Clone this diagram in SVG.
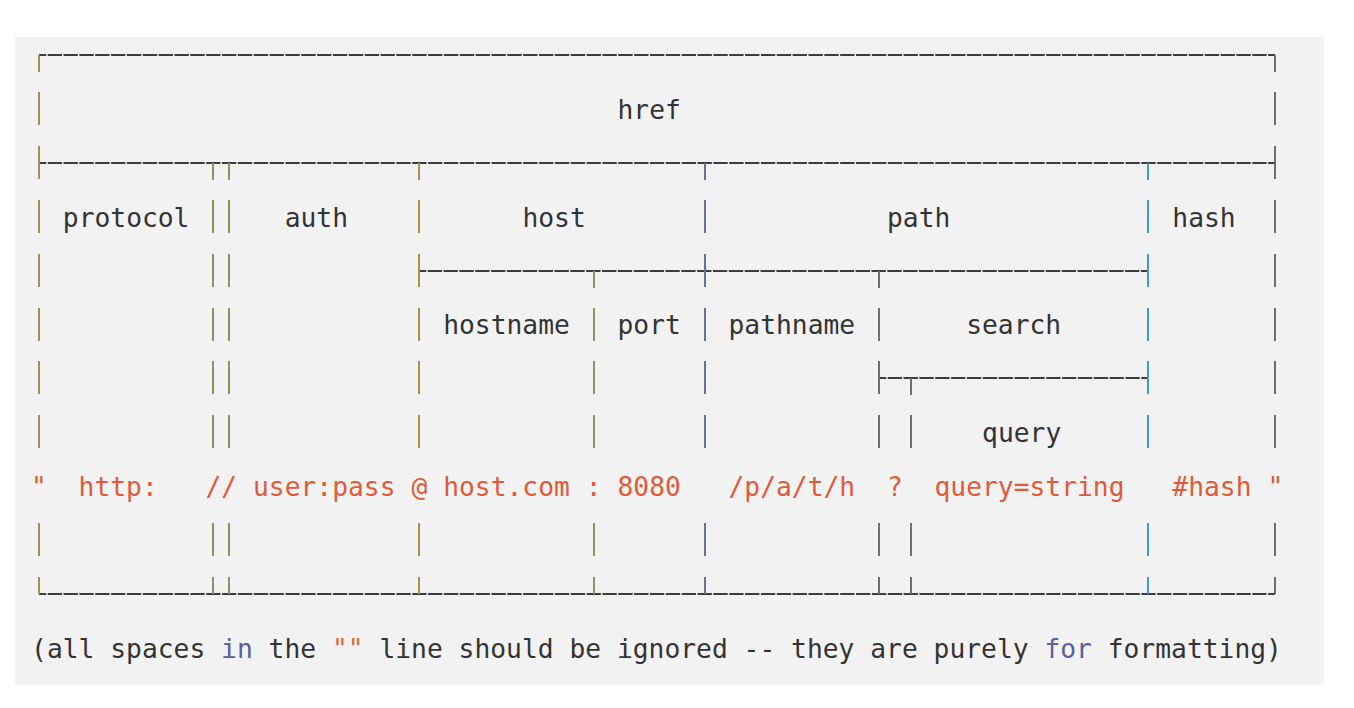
<svg xmlns="http://www.w3.org/2000/svg" width="1354" height="708" viewBox="0 0 1354 708">
  <style>
    text { font-family: "DejaVu Sans Mono", "Liberation Mono", monospace; font-size: 26.3px; }
    .lbl { fill: #333333; }
    .str { fill: #e05a3a; }
    .kw { fill: #5a5f9e; }
    .q { fill: #e06c3c; }
    .h { stroke: #3c3c3c; stroke-width: 2; fill: none; stroke-dasharray: 14.35 1.5; stroke-dashoffset: 7.175; }
    .v { stroke-width: 2; fill: none; }
    .ca { stroke: #a39150; }
    .cb { stroke: #8c9460; }
    .cc { stroke: #66709c; }
    .cd { stroke: #6e6e6e; }
    .ce { stroke: #3f9bc9; }
    .cf { stroke: #76686e; }
  </style>
  <rect x="0" y="0" width="1354" height="708" fill="#ffffff"/>
  <rect x="15" y="37" width="1309" height="648" fill="#f2f2f2"/>

  <g id="connectors">
    <!-- horizontal rules -->
    <line class="h" x1="39" y1="55" x2="1275" y2="55"/>
    <line class="h" x1="39" y1="163" x2="1275" y2="163"/>
    <line class="h" x1="419" y1="271" x2="1148" y2="271"/>
    <line class="h" x1="879" y1="378" x2="1148" y2="378"/>
    <line class="h" x1="39" y1="594" x2="1275" y2="594"/>

    <!-- column 0 -->
    <g class="v ca">
      <line x1="39" y1="55" x2="39" y2="72"/>
      <line x1="39" y1="92" x2="39" y2="125"/>
      <line x1="39" y1="146" x2="39" y2="179"/>
      <line x1="39" y1="200" x2="39" y2="233"/>
      <line x1="39" y1="254" x2="39" y2="287"/>
      <line x1="39" y1="308" x2="39" y2="341"/>
      <line x1="39" y1="361" x2="39" y2="394"/>
      <line x1="39" y1="415" x2="39" y2="448"/>
      <line x1="39" y1="523" x2="39" y2="556"/>
      <line x1="39" y1="577" x2="39" y2="594"/>
    </g>
    <!-- columns 11 and 12 -->
    <g class="v cb">
      <line x1="213" y1="163" x2="213" y2="180"/>
      <line x1="213" y1="200" x2="213" y2="233"/>
      <line x1="213" y1="254" x2="213" y2="287"/>
      <line x1="213" y1="308" x2="213" y2="341"/>
      <line x1="213" y1="361" x2="213" y2="394"/>
      <line x1="213" y1="415" x2="213" y2="448"/>
      <line x1="213" y1="523" x2="213" y2="556"/>
      <line x1="213" y1="577" x2="213" y2="594"/>
      <line x1="229" y1="163" x2="229" y2="180"/>
      <line x1="229" y1="200" x2="229" y2="233"/>
      <line x1="229" y1="254" x2="229" y2="287"/>
      <line x1="229" y1="308" x2="229" y2="341"/>
      <line x1="229" y1="361" x2="229" y2="394"/>
      <line x1="229" y1="415" x2="229" y2="448"/>
      <line x1="229" y1="523" x2="229" y2="556"/>
      <line x1="229" y1="577" x2="229" y2="594"/>
    </g>
    <!-- column 24 -->
    <g class="v ca">
      <line x1="419" y1="163" x2="419" y2="180"/>
      <line x1="419" y1="200" x2="419" y2="233"/>
      <line x1="419" y1="254" x2="419" y2="287"/>
      <line x1="419" y1="308" x2="419" y2="341"/>
      <line x1="419" y1="361" x2="419" y2="394"/>
      <line x1="419" y1="415" x2="419" y2="448"/>
      <line x1="419" y1="523" x2="419" y2="556"/>
      <line x1="419" y1="577" x2="419" y2="594"/>
    </g>
    <!-- column 35 -->
    <g class="v cb">
      <line x1="594" y1="271" x2="594" y2="288"/>
      <line x1="594" y1="308" x2="594" y2="341"/>
      <line x1="594" y1="361" x2="594" y2="394"/>
      <line x1="594" y1="415" x2="594" y2="448"/>
      <line x1="594" y1="523" x2="594" y2="556"/>
      <line x1="594" y1="577" x2="594" y2="594"/>
    </g>
    <!-- column 42 -->
    <g class="v cc">
      <line x1="705" y1="163" x2="705" y2="180"/>
      <line x1="705" y1="200" x2="705" y2="233"/>
      <line x1="705" y1="254" x2="705" y2="287"/>
      <line x1="705" y1="308" x2="705" y2="341"/>
      <line x1="705" y1="361" x2="705" y2="394"/>
      <line x1="705" y1="415" x2="705" y2="448"/>
      <line x1="705" y1="523" x2="705" y2="556"/>
      <line x1="705" y1="577" x2="705" y2="594"/>
    </g>
    <!-- columns 53 and 55 -->
    <g class="v cd">
      <line x1="879" y1="271" x2="879" y2="288"/>
      <line x1="879" y1="308" x2="879" y2="341"/>
      <line x1="879" y1="361" x2="879" y2="394"/>
      <line x1="879" y1="415" x2="879" y2="448"/>
      <line x1="879" y1="523" x2="879" y2="556"/>
      <line x1="879" y1="577" x2="879" y2="594"/>
      <line x1="911" y1="378" x2="911" y2="395"/>
      <line x1="911" y1="415" x2="911" y2="448"/>
      <line x1="911" y1="523" x2="911" y2="556"/>
      <line x1="911" y1="577" x2="911" y2="594"/>
    </g>
    <!-- column 70 -->
    <g class="v ce">
      <line x1="1148" y1="163" x2="1148" y2="180"/>
      <line x1="1148" y1="200" x2="1148" y2="233"/>
      <line x1="1148" y1="254" x2="1148" y2="287"/>
      <line x1="1148" y1="308" x2="1148" y2="341"/>
      <line x1="1148" y1="361" x2="1148" y2="394"/>
      <line x1="1148" y1="415" x2="1148" y2="448"/>
      <line x1="1148" y1="523" x2="1148" y2="556"/>
      <line x1="1148" y1="577" x2="1148" y2="594"/>
    </g>
    <!-- column 78 -->
    <g class="v cf">
      <line x1="1275" y1="55" x2="1275" y2="72"/>
      <line x1="1275" y1="92" x2="1275" y2="125"/>
      <line x1="1275" y1="146" x2="1275" y2="179"/>
      <line x1="1275" y1="200" x2="1275" y2="233"/>
      <line x1="1275" y1="254" x2="1275" y2="287"/>
      <line x1="1275" y1="308" x2="1275" y2="341"/>
      <line x1="1275" y1="361" x2="1275" y2="394"/>
      <line x1="1275" y1="415" x2="1275" y2="448"/>
      <line x1="1275" y1="523" x2="1275" y2="556"/>
      <line x1="1275" y1="577" x2="1275" y2="594"/>
    </g>
  </g>

  <g id="node-href"><text class="lbl" x="617.5" y="118.5">href</text></g>
  <g id="node-protocol"><text class="lbl" x="62.8" y="226.5">protocol</text></g>
  <g id="node-auth"><text class="lbl" x="284.7" y="226.5">auth</text></g>
  <g id="node-host"><text class="lbl" x="522.4" y="226.5">host</text></g>
  <g id="node-path"><text class="lbl" x="887" y="226.5">path</text></g>
  <g id="node-hash"><text class="lbl" x="1172.3" y="226.5">hash</text></g>
  <g id="node-hostname"><text class="lbl" x="443.2" y="334">hostname</text></g>
  <g id="node-port"><text class="lbl" x="617.5" y="334">port</text></g>
  <g id="node-pathname"><text class="lbl" x="728.5" y="334">pathname</text></g>
  <g id="node-search"><text class="lbl" x="966.2" y="334">search</text></g>
  <g id="node-query"><text class="lbl" x="982.1" y="441.5">query</text></g>

  <g id="example-url">
    <text class="str" x="31.1" y="495.5">"</text>
    <text class="str" x="78.6" y="495.5">http:</text>
    <text class="str" x="205.4" y="495.5">//</text>
    <text class="str" x="253" y="495.5">user:pass</text>
    <text class="str" x="411.5" y="495.5">@</text>
    <text class="str" x="443.2" y="495.5">host.com</text>
    <text class="str" x="585.8" y="495.5">:</text>
    <text class="str" x="617.5" y="495.5">8080</text>
    <text class="str" x="728.5" y="495.5">/p/a/t/h</text>
    <text class="str" x="887" y="495.5">?</text>
    <text class="str" x="934.5" y="495.5">query=string</text>
    <text class="str" x="1172.3" y="495.5">#hash</text>
    <text class="str" x="1267.4" y="495.5">"</text>
  </g>

  <g id="note">
    <text class="lbl" x="31.1" y="657.5" xml:space="preserve">(all spaces <tspan class="kw">in</tspan> the <tspan class="q">""</tspan> line should be ignored -- they are purely <tspan class="kw">for</tspan> formatting)</text>
  </g>
</svg>
